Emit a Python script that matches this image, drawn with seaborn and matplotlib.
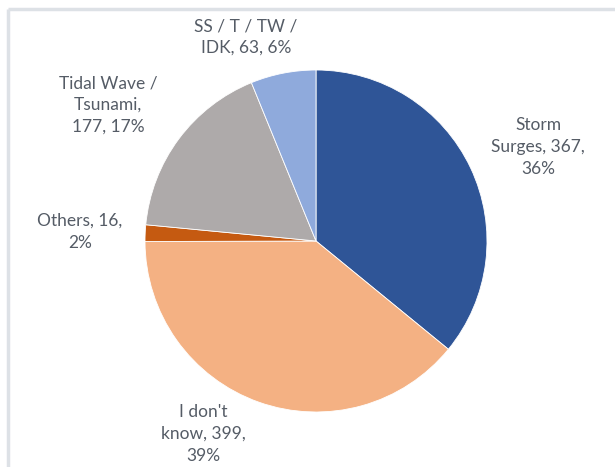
import numpy as np
import matplotlib.pyplot as plt
import seaborn as sns

sns.set_style("white")
plt.rcParams['font.family'] = ['Lato', 'DejaVu Sans']

# dados do grafico
categorias = ["Storm Surges", "I don't know", "Others", "Tidal Wave / Tsunami", "SS / T / TW / IDK"]
valores = [367, 399, 16, 177, 63]
cores = ["#2F5597", "#F4B183", "#C55A11", "#AEAAAA", "#8FAADC"]

W, H = 615, 467
fig = plt.figure(figsize=(W / 100, H / 100), dpi=100)
ax = fig.add_axes([0, 0, 1, 1])

# pizza, comecando em 12 horas, sentido horario
ax.pie(valores, colors=cores, startangle=90, counterclock=False,
       center=(316, H - 241), radius=171, frame=True,
       wedgeprops=dict(edgecolor="white", linewidth=0.6))
ax.set_xlim(0, W)
ax.set_ylim(0, H)
ax.axis("off")

# rotulos: nome, valor, percentual (quebras de linha como no excel)
total = sum(valores)
pcts = [round(100 * v / total) for v in valores]
textos = [
    f"Storm\nSurges, {valores[0]},\n{pcts[0]}%",
    f"I don't\nknow, {valores[1]},\n{pcts[1]}%",
    f"Others, {valores[2]},\n{pcts[2]}%",
    f"Tidal Wave /\nTsunami,\n{valores[3]}, {pcts[3]}%",
    f"SS / T / TW /\nIDK, {valores[4]}, {pcts[4]}%",
]

pos_rotulos = [(538, 147), (203, 434), (80, 232), (108, 105), (246, 37)]
for t, (x, y) in zip(textos, pos_rotulos):
    ax.text(x, H - y, t, ha="center", va="center", fontsize=12.5,
            color="#555c66", linespacing=1.45)

# moldura
ax.plot([8, W], [H - 9, H - 9], color="#dde1e6", lw=2.5, solid_capstyle="butt")
ax.plot([8, 8], [H - 9, 0], color="#dde1e6", lw=2.5, solid_capstyle="butt")

fig.savefig("out.png", dpi=100)
